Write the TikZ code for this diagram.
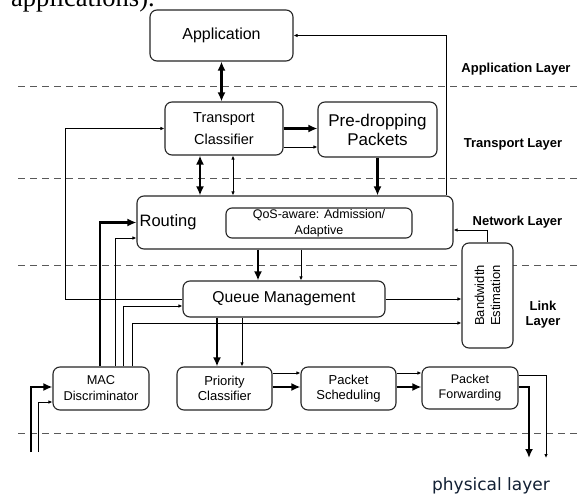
\documentclass[tikz,border=0pt]{standalone}
\usepackage{fontspec}
\setmainfont{Liberation Sans}
\newfontfamily\serifr{Liberation Serif}
\newfontfamily\dejav{DejaVu Sans}
\usetikzlibrary{arrows.meta}
\definecolor{phycol}{RGB}{18,32,52}
\begin{document}
\begin{tikzpicture}[x=1pt,y=-1pt,
  box/.style={draw=black!85, line width=1.1pt, rounded corners=7pt, fill=white, inner sep=0pt, align=center},
  thk/.style={line width=2.6pt, -{Latex[length=9pt,width=8pt]}},
  thkb/.style={line width=2.6pt, {Latex[length=9pt,width=8pt]}-{Latex[length=9pt,width=8pt]}},
  thn/.style={line width=0.9pt, -{Latex[length=4pt,width=3.5pt]}},
  thnb/.style={line width=0.9pt, {Latex[length=4pt,width=3.5pt]}-{Latex[length=4pt,width=3.5pt]}},
  lay/.style={font=\bfseries\fontsize{13}{15}\selectfont, align=center, inner sep=0pt},
  sep/.style={draw=black!65, line width=0.9pt, dash pattern=on 7pt off 5pt}
]
\useasboundingbox (0,0) rectangle (578,494);
\clip (0,0) rectangle (578,494);
\fill[white] (0,0) rectangle (578,494);

% clipped caption fragment at top
\node[anchor=base west, inner sep=0pt, font=\serifr\fontsize{26.5}{30}\selectfont] (cap) at (11,7) {applications).};

% layer separators
\foreach \yy/\nm in {86/s1,178/s2,265/s3,433/s4}{
  \coordinate (\nm l) at (18,\yy);
  \coordinate (\nm r) at (578,\yy);
  \draw[sep] (\nm l) -- (\nm r);
}

% boxes
\node[box, minimum width=143pt, minimum height=51pt, font=\fontsize{16}{19}\selectfont] (app) at (221.5,35.5) {Application};
\node[box, minimum width=118pt, minimum height=53pt, font=\fontsize{14.5}{21.5}\selectfont] (tc) at (224,128.5) {Transport\\Classifier};
\node[box, minimum width=119pt, minimum height=55pt, font=\fontsize{17}{19}\selectfont] (pd) at (377.5,129.5) {Pre-dropping\\Packets};
\node[box, minimum width=316pt, minimum height=53pt] (rt) at (295,222.5) {};
\node[anchor=west, inner sep=0pt, xshift=3pt, font=\fontsize{16.5}{19}\selectfont] (rtl) at (rt.west) {Routing};
\node[box, minimum width=186pt, minimum height=30pt, rounded corners=6pt, font=\fontsize{12.5}{16}\selectfont] (qos) at (319,223) {QoS-aware: Admission/\\Adaptive};
\node[box, minimum width=51pt, minimum height=105pt] (bw) at (487.5,295.5) {};
\node[rotate=90, align=center, inner sep=0pt, font=\fontsize{13}{16}\selectfont] (bwt) at (bw.center) {Bandwidth\\Estimation};
\node[box, minimum width=202pt, minimum height=36pt, font=\fontsize{15.7}{18}\selectfont] (qm) at (284,299) {Queue Management};
\node[box, minimum width=96pt, minimum height=43pt, font=\fontsize{12.8}{16}\selectfont] (mac) at (101,388.5) {MAC\\Discriminator};
\node[box, minimum width=95pt, minimum height=43pt, font=\fontsize{13}{14.5}\selectfont] (pc) at (224.5,388.5) {Priority\\Classifier};
\node[box, minimum width=95pt, minimum height=43pt, font=\fontsize{13}{15}\selectfont] (ps) at (348.5,388.5) {Packet\\Scheduling};
\node[box, minimum width=96pt, minimum height=42pt, font=\fontsize{12.5}{15}\selectfont] (pf) at (470,388) {Packet\\Forwarding};

% layer labels
\node[lay] (la) at (516,69) {Application Layer};
\node[lay] (lt) at (513,144) {Transport Layer};
\node[lay] (ln) at (517.5,222) {Network Layer};
\node[lay] (ll) at (543,315) {Link\\Layer};
\node[anchor=base, inner sep=0pt, text=phycol, font=\dejav\fontsize{17}{20}\selectfont] (phy) at (491,490) {physical layer};

% helper columns and rows
\foreach \xx in {31,38,65,100,115,123,132,200,217,233,242,258,301,446,529,546}{\coordinate (c\xx) at (\xx,0);}
\foreach \yy in {147,230,238,306,323,373,375,387,402,452,458}{\coordinate (r\yy) at (0,\yy);}

% connectors
\draw[thkb] (app.south) -- (app.south |- tc.north);
\draw[thn] (rt.north -| c446) -- (c446 |- app.east) -- (app.east);
\draw[thn] (qm.west) -- (qm.west -| c65) -- (c65 |- tc.west) -- (tc.west);
\draw[thk] (tc.east) -- (tc.east -| pd.west);
\draw[thn] (tc.east |- r147) -- (pd.west |- r147);
\draw[thkb] (tc.south -| c200) -- (rt.north -| c200);
\draw[thnb] (tc.south -| c233) -- (rt.north -| c233);
\draw[thk] (pd.south) -- (pd.south |- rt.north);
\draw[thk] (mac.north -| c100) -- (c100 |- rt.west) -- (rt.west);
\draw[thn] (mac.north -| c115) -- (c115 |- r238) -- (rt.west |- r238);
\draw[thn] (mac.north -| c123) -- (c123 |- r306) -- (qm.west |- r306);
\draw[thn] (mac.north -| c132) -- (c132 |- r323) -- (bw.west |- r323);
\draw[thn] (qm.east) -- (qm.east -| bw.west);
\draw[thn] (bw.north) -- (bw.north |- r230) -- (rt.east |- r230);
\draw[thk] (rt.south -| c258) -- (qm.north -| c258);
\draw[thn] (rt.south -| c301) -- (qm.north -| c301);
\draw[thk] (qm.south -| c217) -- (pc.north -| c217);
\draw[thn] (qm.south -| c242) -- (pc.north -| c242);
\draw[thk] (pc.east |- r387) -- (ps.west |- r387);
\draw[thn] (pc.east |- r373) -- (ps.west |- r373);
\draw[thk] (ps.east |- r387) -- (pf.west |- r387);
\draw[thn] (ps.east |- r373) -- (pf.west |- r373);
\coordinate (o1) at (c529 |- r458);
\coordinate (o2) at (c546 |- r458);
\draw[thk] (pf.east |- r387) -- (c529 |- r387) -- (o1);
\draw[thn] (pf.east |- r375) -- (c546 |- r375) -- (o2);
\coordinate (i1) at (c31 |- r452);
\coordinate (i2) at (c38 |- r452);
\draw[thk] (i1) -- (c31 |- r387) -- (mac.west |- r387);
\draw[thn] (i2) -- (c38 |- r402) -- (mac.west |- r402);
\end{tikzpicture}
\end{document}
